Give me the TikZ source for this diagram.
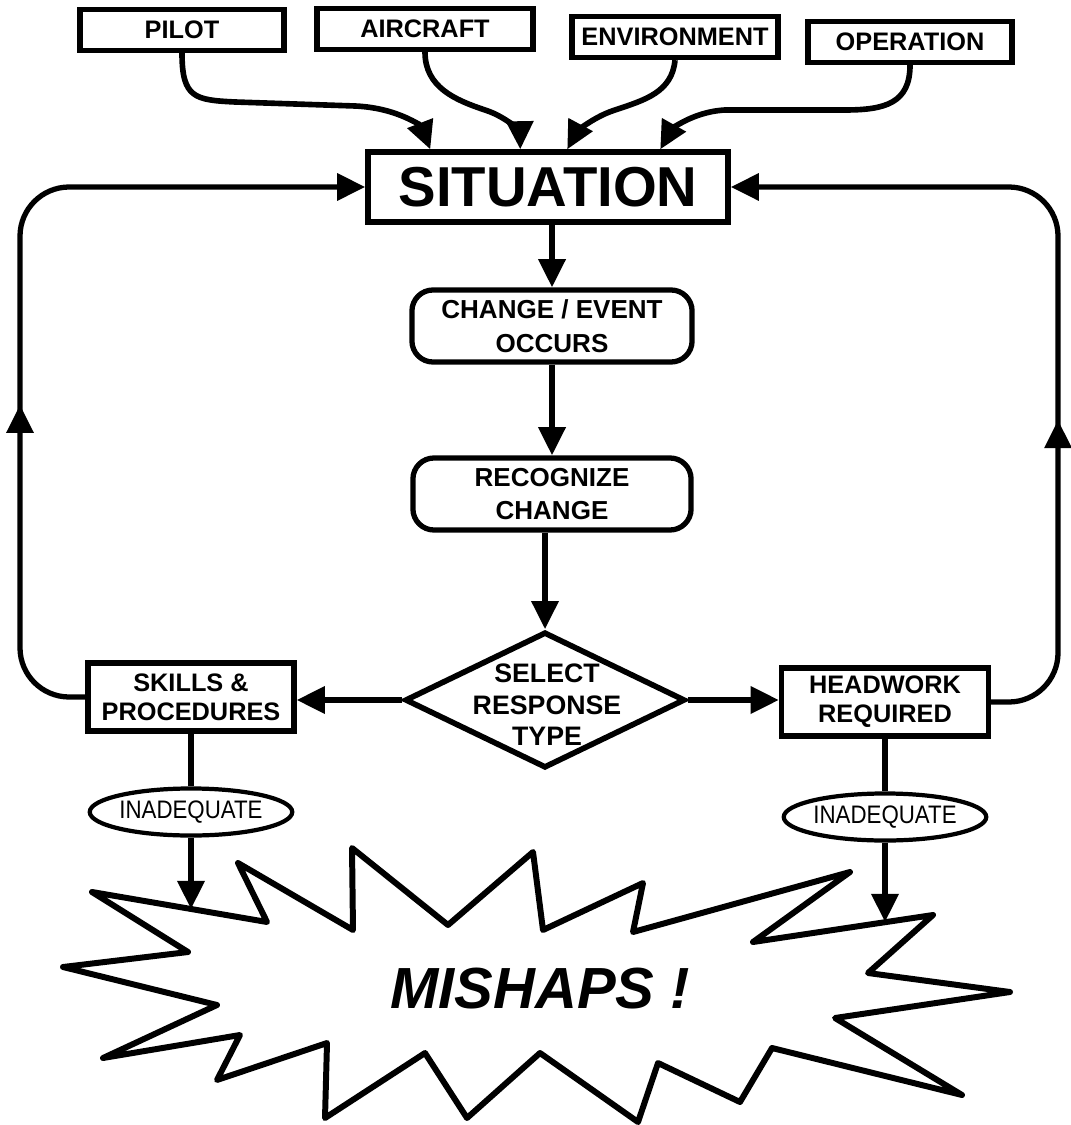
\documentclass[tikz,border=0pt]{standalone}
\usepackage{fontspec}
\setmainfont{Liberation Sans}
\newfontfamily\narrowsans[FakeStretch=0.88]{Liberation Sans}
\usetikzlibrary{arrows.meta,shapes.geometric,calc,decorations.markings}

\begin{document}
\begin{tikzpicture}[x=0.01cm,y=-0.01cm,
  tip/.tip={Triangle[length=8pt,width=7.5pt]},
  frame/.style={draw,line width=1.5pt,inner sep=0pt,align=center},
  tag/.style={frame,minimum height=0.41cm,font=\fontsize{7.2}{8}\selectfont\bfseries},
  stepbox/.style={frame,rounded corners=6pt,minimum width=2.8cm,minimum height=0.72cm,
    font=\fontsize{7.4}{9.6}\selectfont\bfseries},
  actbox/.style={frame,minimum width=2.06cm,minimum height=0.68cm,
    font=\fontsize{7.2}{8.3}\selectfont\bfseries},
  verdict/.style={frame,ellipse,line width=1.2pt,minimum width=1.93cm,minimum height=0.47cm,
    font=\fontsize{7.2}{8}\narrowsans},
  conn/.style={line width=1.6pt,-tip},
  plain/.style={line width=1.6pt},
  loopback/.style={line width=1.5pt,-tip,rounded corners=14pt,
    postaction={decorate,decoration={markings,mark=at position #1 with {\arrow{tip}}}}},
  burst/.style={line width=1.7pt,line join=round}]

\fill[white] (0,0) rectangle (1070,1125);
\useasboundingbox (0,0) rectangle (1070,1125);

% factors feeding the situation
\node[tag,minimum width=2.04cm] (pilot) at (182,30) {PILOT};
\node[tag,minimum width=2.16cm] (air)   at (425,29) {AIRCRAFT};
\node[tag,minimum width=2.06cm] (env)   at (675,37) {ENVIRONMENT};
\node[tag,minimum width=2.04cm] (op)    at (910,42) {OPERATION};

\node[frame,minimum width=3.6cm,minimum height=0.70cm,
      font=\fontsize{16}{18}\selectfont\bfseries] (sit) at (548,187) {SITUATION};

% main flow
\node[stepbox] (change) at (552,326) {CHANGE / EVENT\\OCCURS};
\node[stepbox,minimum width=2.78cm] (recog) at (552,494) {RECOGNIZE\\CHANGE};
\node[draw,line width=1.6pt,diamond,minimum width=2.8cm,minimum height=1.36cm,
      inner sep=0pt] (dia) at (545,700) {};
\node[font=\fontsize{7.6}{9}\selectfont\bfseries,align=center] (diatext) at (547,705)
      {SELECT\\RESPONSE\\TYPE};

\node[actbox] (skills) at (191,697) {SKILLS \&\\PROCEDURES};
\node[actbox,minimum width=2.07cm] (head) at (885,702) {HEADWORK\\REQUIRED};

\node[verdict] (ellL) at (191,812) {INADEQUATE};
\node[verdict,minimum width=1.94cm] (ellR) at (885,817) {INADEQUATE};

% the mishap starburst
\draw[burst] (92,892) -- (267,922) -- (238,863) -- (353,930) -- (352,848) -- (448,925)
  -- (533,852) -- (543,930) -- (643,883) -- (633,932) -- (850,872) -- (753,942)
  -- (933,915) -- (868,973) -- (1010,992) -- (835,1018) -- (962,1095) -- (772,1048)
  -- (740,1102) -- (658,1063) -- (638,1122) -- (540,1053) -- (467,1118) -- (425,1053)
  -- (325,1118) -- (327,1043) -- (217,1080) -- (240,1035) -- (103,1058) -- (217,1005)
  -- (63,967) -- (188,952) -- cycle;
\node[font=\fontsize{16.5}{18}\selectfont\bfseries\itshape] (mishap) at (540,989) {MISHAPS !};
\coordinate (hitL) at (191,909);
\coordinate (hitR) at (885,922);

% inputs into the situation
\draw[conn] (pilot.south) .. controls +(0,45) and (195,100) .. (235,102) -- (355,106)
  .. controls (400,108) and (422,128) .. ($(sit.north west)+(65,0)$);
\draw[conn] (air.south) .. controls +(0,35) and (455,100) .. (485,110)
  .. controls (510,118) and (520,135) .. ($(sit.north west)+(155,0)$);
\draw[conn] (env.south) .. controls +(-3,32) and (645,100) .. (615,110)
  .. controls (590,118) and (575,135) .. ($(sit.north west)+(202,0)$);
\draw[conn] (op.south) .. controls +(0,38) and (885,110) .. (845,110) -- (725,110)
  .. controls (690,112) and (670,132) .. ($(sit.north west)+(295,0)$);

% flow down
\draw[conn] (change.north |- sit.south) -- (change.north);
\draw[conn] (change.south) -- (recog.north);
\draw[conn] (dia.north |- recog.south) -- (dia.north);
\draw[conn] (dia.west) -- (dia.west -| skills.east);
\draw[conn] (dia.east) -- (dia.east -| head.west);

% back to the situation
\draw[loopback=0.383] (skills.west) -| (20,187) -- (sit.west);
\draw[loopback=0.378] (head.east) -| (1058,187) -- (sit.east);

% inadequate responses
\draw[plain] (skills.south) -- (ellL.north);
\draw[plain] (head.south) -- (ellR.north);
\draw[conn] (ellL.south) -- (hitL);
\draw[conn] (ellR.south) -- (hitR);

\end{tikzpicture}
\end{document}
